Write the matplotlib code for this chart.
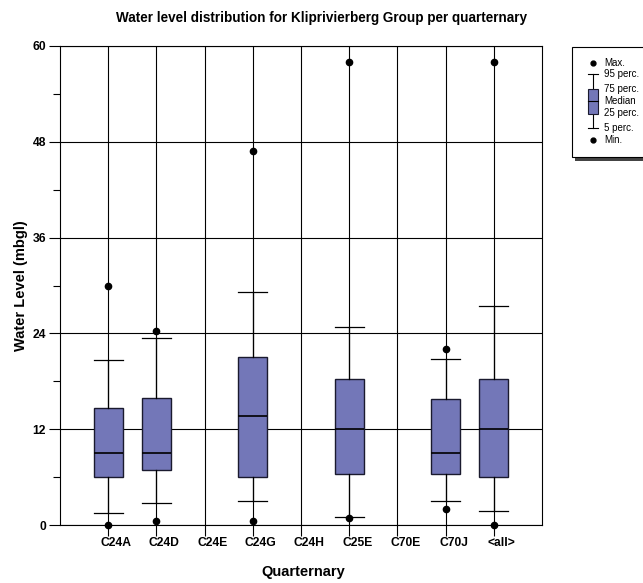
import matplotlib
matplotlib.use("Agg")
import matplotlib.pyplot as plt
import matplotlib.transforms as mtransforms
from matplotlib.patches import Rectangle

plt.rcParams['font.family'] = ['Liberation Sans', 'DejaVu Sans']

# Water level statistics per quarternary (mbgl)
quarternaries = ["C24A", "C24D", "C24E", "C24G", "C24H", "C25E", "C70E", "C70J", "<all>"]
has_data = [True, True, False, True, False, True, False, True, True]
minimum = [0.0, 0.55, None, 0.55, None, 0.9, None, 1.95, 0.0]
perc5 = [1.5, 2.7, None, 3.0, None, 0.95, None, 3.0, 1.75]
perc25 = [6.0, 6.9, None, 6.0, None, 6.35, None, 6.35, 6.0]
median = [9.05, 9.05, None, 13.7, None, 12.0, None, 9.05, 12.0]
perc75 = [14.7, 15.9, None, 21.1, None, 18.3, None, 15.8, 18.3]
perc95 = [20.7, 23.4, None, 29.2, None, 24.8, None, 20.8, 27.4]
maximum = [30.0, 24.35, None, 46.9, None, 58.0, None, 22.0, 58.0]

y_ticks = [0, 12, 24, 36, 48, 60]

BOX_COLOR = "#7377B8"

fig = plt.figure(figsize=(6.43, 5.83), dpi=100)
W, H = 643, 583
ax = fig.add_axes([60 / W, 1 - 525 / H, (542 - 60) / W, (525 - 46) / H])

positions = list(range(1, len(quarternaries) + 1))
stats, pos_used = [], []
for i, p in enumerate(positions):
    if not has_data[i]:
        continue
    stats.append(dict(med=median[i], q1=perc25[i], q3=perc75[i],
                      whislo=perc5[i], whishi=perc95[i],
                      fliers=[minimum[i], maximum[i]]))
    pos_used.append(p)

bp = ax.bxp(stats, positions=pos_used, widths=0.6, patch_artist=True,
            boxprops=dict(facecolor=BOX_COLOR, edgecolor="#1a1a2e", linewidth=1.0),
            medianprops=dict(color="black", linewidth=1.2),
            whiskerprops=dict(color="black", linewidth=0.9),
            capprops=dict(color="black", linewidth=0.9),
            capwidths=0.6,
            flierprops=dict(marker="o", markerfacecolor="black", markeredgecolor="black",
                            markersize=4.5, linestyle="none"),
            zorder=3)
for fl in bp["fliers"]:
    fl.set_clip_on(False)

ax.set_xlim(0, len(quarternaries) + 1)
ax.set_ylim(0, 60)
ax.set_xticks(positions)
ax.set_xticklabels([""] * len(quarternaries))
# Category names sit slightly to the right of their tick marks
label_tr = ax.get_xaxis_transform() + mtransforms.ScaledTranslation(8 / 100, -18 / 100, fig.dpi_scale_trans)
for p, name in zip(positions, quarternaries):
    ax.text(p, 0, name, transform=label_tr, ha="center", va="center",
            fontsize=8.7, fontweight="bold", clip_on=False)

ax.set_yticks(y_ticks)
ax.set_yticks([6, 18, 30, 42, 54], minor=True)
ax.set_yticklabels([str(t) for t in y_ticks], fontsize=8.7, fontweight="bold")
ax.tick_params(axis="both", which="major", length=8, width=0.8, direction="out", pad=2)
ax.tick_params(axis="y", which="minor", length=5, width=0.8)
ax.tick_params(axis="x", which="minor", length=0)
ax.grid(True, which="major", axis="both", color="black", linewidth=0.8, zorder=1)
ax.set_axisbelow(True)
for s in ax.spines.values():
    s.set_linewidth(0.8)

ax.set_ylabel("Water Level (mbgl)", fontsize=10.5, fontweight="bold", labelpad=3)
fig.text(303 / W, 1 - 572 / H, "Quarternary", ha="center", va="center",
         fontsize=10.5, fontweight="bold")
fig.text(0.5, 1 - 18 / H, "Water level distribution for Kliprivierberg Group per quarternary",
         ha="center", va="center", fontsize=9.75, fontweight="bold")

# Key explaining the box symbols (pixel coordinates within the key panel)
lg = fig.add_axes([571 / W, 1 - 162 / H, (643 - 571) / W, (162 - 46) / H])
lg.set_xlim(0, 72)
lg.set_ylim(116, 0)
lg.axis("off")
lg.add_patch(Rectangle((4, 110), 68, 5, facecolor="#444444", edgecolor="none"))
lg.add_patch(Rectangle((0.5, 0.5), 73, 110, facecolor="white", edgecolor="black", linewidth=0.8))
cx = 22
lg.plot([cx, cx], [28, 82], color="black", linewidth=0.8)
lg.plot([cx - 5, cx + 5], [28, 28], color="black", linewidth=0.8)
lg.plot([cx - 5, cx + 5], [82, 82], color="black", linewidth=0.8)
lg.add_patch(Rectangle((cx - 5, 42.5), 10, 25, facecolor=BOX_COLOR, edgecolor="#1a1a2e", linewidth=0.8, zorder=3))
lg.plot([cx - 5, cx + 5], [55, 55], color="black", linewidth=0.8, zorder=4)
lg.plot([cx, cx], [17, 94], "o", color="black", markersize=3.5, linestyle="none")
key_labels = ["Max.", "95 perc.", "75 perc.", "Median", "25 perc.", "5 perc.", "Min."]
key_y = [17, 28, 42.5, 55, 67.5, 82, 94]
for lab, y in zip(key_labels, key_y):
    lg.text(33, y, lab, fontsize=7.0, va="center", ha="left")

fig.savefig("out.png", dpi=100)
